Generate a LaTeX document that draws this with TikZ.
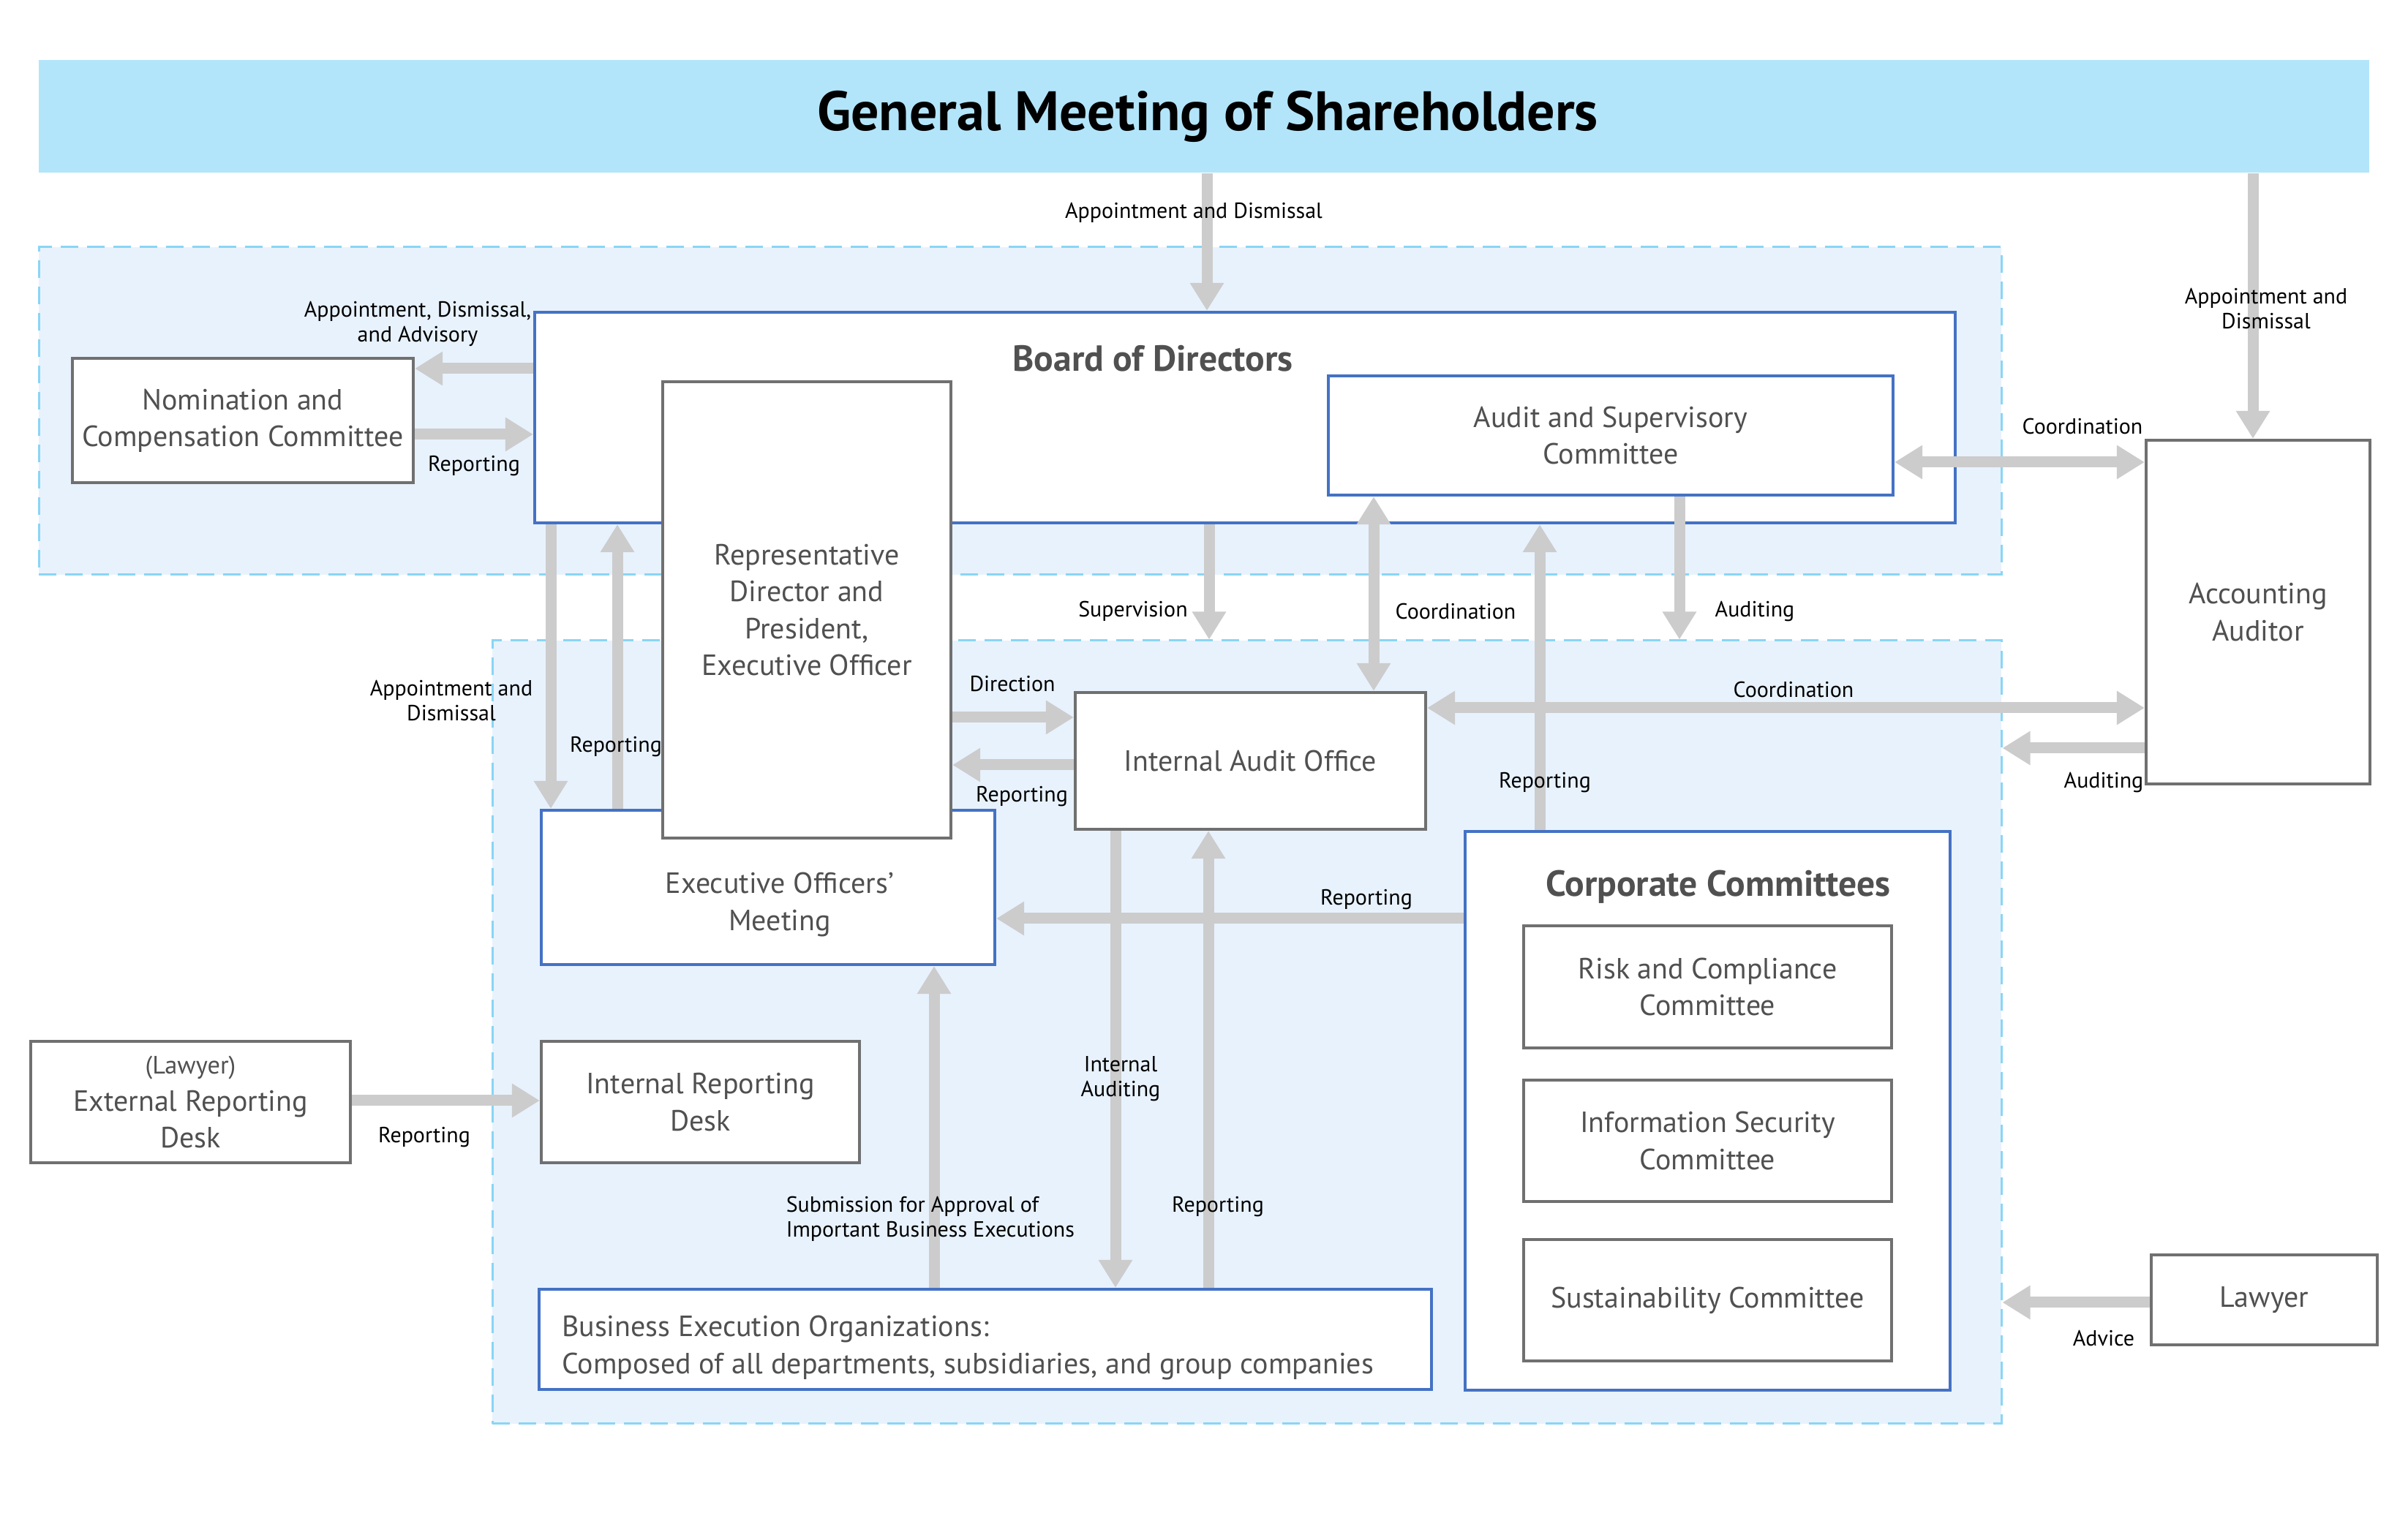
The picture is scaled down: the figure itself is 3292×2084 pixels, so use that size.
\documentclass[tikz,border=0pt]{standalone}
\usepackage{fontspec}
\setmainfont{PT Sans}
\usetikzlibrary{arrows.meta}
\definecolor{banner}{HTML}{B3E5FA}
\definecolor{regionfill}{HTML}{E8F2FD}
\definecolor{regionline}{HTML}{8AD5F5}
\definecolor{bluebox}{HTML}{4472C4}
\definecolor{graybox}{HTML}{707070}
\definecolor{arrowgray}{HTML}{CCCCCC}
\definecolor{boxtext}{HTML}{505050}
\tikzset{
  sz/.style 2 args={minimum width=#1*0.25pt, minimum height=#2*0.25pt},
  region/.style={draw=regionline, fill=regionfill, line width=0.75pt, dash pattern=on 6pt off 3pt, inner sep=0pt},
  boxbase/.style={fill=white, line width=1.05pt, inner sep=0pt, text=boxtext, font=\fontsize{10}{12.6}\selectfont, align=center},
  bbox/.style={boxbase, draw=bluebox},
  gbox/.style={boxbase, draw=graybox},
  boxtitle/.style={text=boxtext, font=\bfseries\fontsize{12.4}{14}\selectfont, inner sep=0pt},
  lbl/.style={font=\fontsize{7.5}{8.6}\selectfont, text=black, align=center, inner sep=0pt},
  conn/.style={draw=arrowgray, line width=3.75pt, -{Triangle[width=11pt,length=9.5pt]}},
  dconn/.style={draw=arrowgray, line width=3.75pt, {Triangle[width=11pt,length=9.5pt]}-{Triangle[width=11pt,length=9.5pt]}},
}
\begin{document}
\begin{tikzpicture}[x=0.25pt,y=-0.25pt]
\useasboundingbox (0,0) rectangle (3292,2084);
% banner and regions
\node[fill=banner, inner sep=0pt, sz={3186}{154}, text=black] (gm) at (1646,159) {};
\node[font=\bfseries\fontsize{19}{22}\selectfont, text=black, inner sep=0pt] (gmtitle) at (1651,159) {General Meeting of Shareholders};
\node[region, sz={2683}{448}] (upper) at (1394.5,562) {};
\node[region, sz={2063}{1071}] (lower) at (1704.5,1411.5) {};
% boxes
\node[bbox, sz={1942}{288}] (board) at (1702,571) {};
\node[boxtitle] (boardtitle) at (1576,490) {Board of Directors};
\node[bbox, sz={772}{163}] (audit) at (2202,595.5) {Audit and Supervisory\\Committee};
\node[gbox, sz={466}{170}] (nom) at (332,575) {Nomination and\\Compensation Committee};
\node[bbox, sz={620}{211}] (eom) at (1050,1213.5) {};
\node[boxbase, fill=none, text=boxtext] (eomtext) at (1066,1237) {Executive Officers’\\Meeting};
\node[gbox, sz={394}{624}] (repdir) at (1103,834) {Representative\\Director and\\President,\\Executive Officer};
\node[gbox, sz={306}{470}] (accaud) at (3087,837) {Accounting\\Auditor};
\node[gbox, sz={479}{187}] (iao) at (1709.5,1040.5) {Internal Audit Office};
\node[bbox, sz={663}{764}] (corp) at (2334.5,1519) {};
\node[boxtitle] (corptitle) at (2349,1213) {Corporate Committees};
\node[gbox, sz={503}{167}] (risk) at (2334.5,1349.5) {Risk and Compliance\\Committee};
\node[gbox, sz={503}{166}] (info) at (2334.5,1560) {Information Security\\Committee};
\node[gbox, sz={503}{166}] (sust) at (2334.5,1778) {Sustainability Committee};
\node[gbox, sz={437}{166}] (extrep) at (260.5,1507) {{\fontsize{8.6}{10}\selectfont (Lawyer)}\\External Reporting\\Desk};
\node[gbox, sz={435}{166}] (intrep) at (957.5,1507) {Internal Reporting\\Desk};
\node[bbox, sz={1220}{137}] (beo) at (1347,1831.5) {};
\node[boxbase, fill=none, align=left, anchor=west] (beotext) at (766,1843) {Business Execution Organizations:\\Composed of all departments, subsidiaries, and group companies};
\node[gbox, sz={309}{123}] (lawyer) at (3095.5,1777.5) {Lawyer};
% guide coordinates
\coordinate (v1) at (1650,0);
\coordinate (v2) at (3080,0);
\coordinate (v3) at (753,0);
\coordinate (v4) at (844,0);
\coordinate (v5) at (1653,0);
\coordinate (v6) at (1878,0);
\coordinate (v7) at (2105,0);
\coordinate (v8) at (2296,0);
\coordinate (v9) at (1525,0);
\coordinate (v10) at (1652,0);
\coordinate (v11) at (1277,0);
\coordinate (h1) at (0,504);
\coordinate (h2) at (0,594);
\coordinate (h3) at (0,632);
\coordinate (h4) at (0,968);
\coordinate (h5) at (0,1023);
\coordinate (h6) at (0,981);
\coordinate (h7) at (0,1046);
\coordinate (h8) at (0,1256);
\coordinate (h9) at (0,1505);
\coordinate (h10) at (0,1781);
% connectors
\draw[conn] (gm.south -| v1) -- (board.north -| v1);
\draw[conn] (gm.south -| v2) -- (accaud.north -| v2);
\draw[conn] (board.west |- h1) -- (nom.east |- h1);
\draw[conn] (nom.east |- h2) -- (board.west |- h2);
\draw[conn] (board.south -| v3) -- (eom.north -| v3);
\draw[conn] (eom.north -| v4) -- (board.south -| v4);
\draw[conn] (board.south -| v5) -- (lower.north -| v5);
\draw[dconn] (audit.south -| v6) -- (iao.north -| v6);
\draw[conn] (corp.north -| v7) -- (board.south -| v7);
\draw[conn] (audit.south -| v8) -- (lower.north -| v8);
\draw[dconn] (audit.east |- h3) -- (accaud.west |- h3);
\draw[dconn] (iao.east |- h4) -- (accaud.west |- h4);
\draw[conn] (accaud.west |- h5) -- (lower.east |- h5);
\draw[conn] (repdir.east |- h6) -- (iao.west |- h6);
\draw[conn] (iao.west |- h7) -- (repdir.east |- h7);
\draw[conn] (corp.west |- h8) -- (eom.east |- h8);
\draw[conn] (iao.south -| v9) -- (beo.north -| v9);
\draw[conn] (beo.north -| v10) -- (iao.south -| v10);
\draw[conn] (beo.north -| v11) -- (eom.south -| v11);
\draw[conn] (extrep.east |- h9) -- (intrep.west |- h9);
\draw[conn] (lawyer.west |- h10) -- (lower.east |- h10);
% labels
\node[lbl] (l1) at (1632,291) {Appointment and Dismissal};
\node[lbl] (l2) at (3098,422) {Appointment and\\Dismissal};
\node[lbl] (l3) at (571,443) {Appointment, Dismissal,\\and Advisory};
\node[lbl] (l4) at (648,637) {Reporting};
\node[lbl] (l5) at (617,958) {Appointment and\\Dismissal};
\node[lbl] (l6) at (842,1021) {Reporting};
\node[lbl] (l7) at (1549,836) {Supervision};
\node[lbl] (l8) at (1990,836) {Coordination};
\node[lbl] (l9) at (2112,1070) {Reporting};
\node[lbl] (l10) at (2399,836) {Auditing};
\node[lbl] (l11) at (2847,583) {Coordination};
\node[lbl] (l12) at (2452,943) {Coordination};
\node[lbl] (l13) at (2876,1070) {Auditing};
\node[lbl] (l14) at (1384,935) {Direction};
\node[lbl] (l15) at (1397,1089) {Reporting};
\node[lbl] (l16) at (1868,1230) {Reporting};
\node[lbl] (l17) at (1532,1475) {Internal\\Auditing};
\node[lbl] (l18) at (1665,1650) {Reporting};
\node[lbl, align=left, anchor=west] (l19) at (1074,1667) {Submission for Approval of\\Important Business Executions};
\node[lbl] (l20) at (580,1555) {Reporting};
\node[lbl] (l21) at (2876,1830) {Advice};
\end{tikzpicture}
\end{document}
